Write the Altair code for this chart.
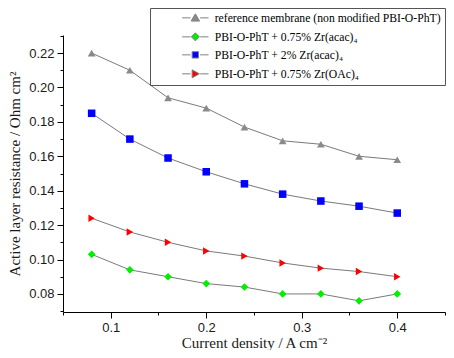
import altair as alt
import pandas as pd

# ---- data ----
current = [0.08, 0.12, 0.16, 0.20, 0.24, 0.28, 0.32, 0.36, 0.40]
ref_membrane = [0.220, 0.210, 0.194, 0.188, 0.177, 0.169, 0.167, 0.160, 0.158]
zr_acac_075 = [0.103, 0.094, 0.090, 0.086, 0.084, 0.080, 0.080, 0.076, 0.080]
zr_acac_2 = [0.185, 0.170, 0.159, 0.151, 0.144, 0.138, 0.134, 0.131, 0.127]
zr_oac_075 = [0.124, 0.116, 0.110, 0.105, 0.102, 0.098, 0.095, 0.093, 0.090]

series_names = [
    "reference membrane (non modified PBI-O-PhT)",
    "PBI-O-PhT + 0.75% Zr(acac)\u2084",
    "PBI-O-PhT + 2% Zr(acac)\u2084",
    "PBI-O-PhT + 0.75% Zr(OAc)\u2084",
]
series_values = [ref_membrane, zr_acac_075, zr_acac_2, zr_oac_075]
series_colors = ["#8a8a8a", "#00ee00", "#0000ff", "#ff0000"]
series_shapes = ["triangle-up", "diamond", "square", "triangle-right"]

# legend symbols: marker with a short line through it
legend_paths = [
    "M-3.3,0H-1.2M1.2,0H3.3M0,-1.0L1.05,0.8L-1.05,0.8Z",
    "M-3.3,0H-1.2M1.2,0H3.3M0,-1.0L1.0,0L0,1.0L-1.0,0Z",
    "M-3.3,0H-1.2M1.2,0H3.3M-0.8,-0.8H0.8V0.8H-0.8Z",
    "M-3.3,0H-1.2M1.2,0H3.3M-0.8,-1.0L1.0,0L-0.8,1.0Z",
]

x_ticks = [0.05, 0.10, 0.15, 0.20, 0.25, 0.30, 0.35, 0.40, 0.45]
y_ticks = [0.07, 0.08, 0.09, 0.10, 0.11, 0.12, 0.13, 0.14, 0.15, 0.16,
           0.17, 0.18, 0.19, 0.20, 0.21, 0.22, 0.23]

rows = []
for name, vals in zip(series_names, series_values):
    for c, v in zip(current, vals):
        rows.append({"series": name, "current": c, "resistance": v})
df = pd.DataFrame(rows)

x_enc = alt.X(
    "current:Q",
    scale=alt.Scale(domain=[0.05, 0.45], nice=False, zero=False),
    axis=alt.Axis(
        values=x_ticks,
        title="Current density / A cm\u207b\u00b2",
        labelExpr="round(datum.value*20) % 2 == 0 ? format(datum.value, '.1f') : ''",
        tickSize={"condition": {"test": "round(datum.value*20) % 2 == 0", "value": 6}, "value": 3},
        grid=False,
    ),
)
y_enc = alt.Y(
    "resistance:Q",
    scale=alt.Scale(domain=[0.0695, 0.2305], nice=False, zero=False),
    axis=alt.Axis(
        values=y_ticks,
        title="Active layer resistance / Ohm cm\u00b2",
        labelExpr="round(datum.value*100) % 2 == 0 ? format(datum.value, '.2f') : ''",
        tickSize={"condition": {"test": "round(datum.value*100) % 2 == 0", "value": 6}, "value": 3},
        grid=False,
        titleX=-41,
    ),
)

base = alt.Chart(df)

lines = base.mark_line(color="#7a7a7a", strokeWidth=1).encode(
    x=x_enc, y=y_enc, detail="series:N"
)

points = base.mark_point(filled=True, opacity=1).encode(
    x=x_enc,
    y=y_enc,
    color=alt.Color("series:N", scale=alt.Scale(domain=series_names, range=series_colors), legend=None),
    shape=alt.Shape("series:N", scale=alt.Scale(domain=series_names, range=series_shapes), legend=None),
    size=alt.Size("series:N", scale=alt.Scale(domain=series_names, range=[60, 55, 42, 60]), legend=None),
)

legend_layer = base.transform_filter("false").mark_point(
    filled=True, size=64, opacity=1, stroke="#808080", strokeWidth=1
).encode(
    x=x_enc,
    y=y_enc,
    color=alt.Color(
        "series:N",
        scale=alt.Scale(domain=series_names, range=series_colors),
        legend=alt.Legend(
            title=None,
            orient="none",
            legendX=87,
            legendY=-27,
            padding=4,
            rowPadding=5,
            symbolOffset=35.5,
            labelOffset=13.5,
            symbolSize=64,
            symbolStrokeWidth=1,
            labelFont="Liberation Serif",
            labelFontSize=11.7,
            labelColor="#000000",
            labelLimit=400,
            strokeColor="#555555",
            fillColor="#ffffff",
        ),
    ),
    shape=alt.Shape(
        "series:N",
        scale=alt.Scale(domain=series_names, range=legend_paths),
    ),
)

chart = (
    alt.layer(lines, points, legend_layer)
    .resolve_scale(color="independent", shape="independent")
    .properties(
        width=382,
        height=277,
        autosize=alt.AutoSizeParams(type="none"),
        padding={"left": 55, "top": 27, "right": 1, "bottom": 38},
    )
    .configure_view(stroke=None)
    .configure_axis(
        domainColor="#000000",
        domainWidth=1,
        tickColor="#000000",
        tickWidth=1,
        labelFont="Liberation Sans",
        labelFontSize=13,
        labelColor="#1a1a1a",
        labelPadding=3,
        titleFont="Liberation Serif",
        titleFontSize=15,
        titleFontWeight="normal",
        titleColor="#1a1a1a",
    )
    .configure_axisX(titleY=23, titleBaseline="top")
)

chart.save("out.html", embed_options={"renderer": "svg", "actions": False})
